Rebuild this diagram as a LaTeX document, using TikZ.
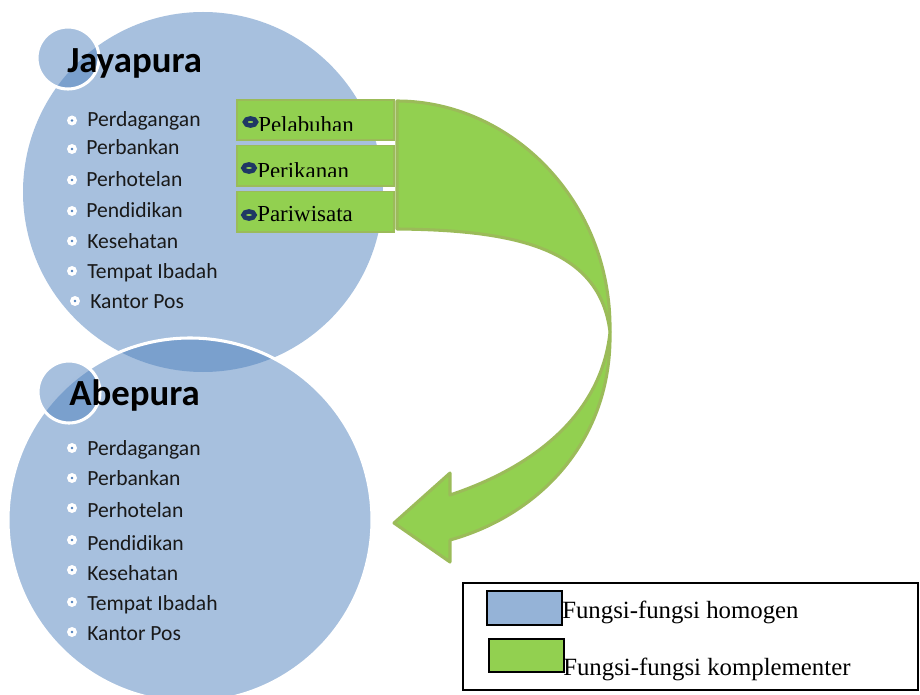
\documentclass[tikz,border=0pt]{standalone}
\usepackage{fontspec}
\setmainfont{Liberation Serif}
\newfontfamily\calibrifont{Carlito}
\definecolor{cityblue}{HTML}{4F81BD}
\definecolor{legblue}{HTML}{95B3D7}
\definecolor{funcgreen}{HTML}{92D050}
\definecolor{funcedge}{HTML}{9BBB59}
\definecolor{ringblue}{HTML}{1F3864}
\tikzset{
    bigcity/.style={fill=cityblue,fill opacity=0.5},
    smallcity/.style={fill=cityblue,fill opacity=0.5,draw=white,draw opacity=1,line width=2.3pt} }
\tikzset{
    citytitle/.style={anchor=base west,inner sep=0pt,font=\calibrifont\bfseries\fontsize{27.6}{30}\selectfont},
    citylist/.style={anchor=base west,inner sep=0pt,text=black!90,font=\calibrifont\fontsize{16.2}{19}\selectfont},
    funcbox/.style={fill=funcgreen,draw=funcedge,line width=1pt},
    functext/.style={anchor=base west,inner sep=0pt,font=\fontsize{17.2}{19}\selectfont},
    arrowband/.style={fill=funcgreen,draw=funcedge,line width=2.3pt,line join=round},
    legtext/.style={anchor=base west,inner sep=0pt,font=\fontsize{18.6}{20}\selectfont} }

\begin{document}
\begin{tikzpicture}[x=0.75pt,y=-0.75pt]
\useasboundingbox (0,0) rectangle (920,695);

% Jayapura
  \fill [bigcity] (203,192) circle (180);
  \filldraw [smallcity] (68,58) circle (31);
  \node [citytitle] (jaya) at (67,73) {Jayapura};

% Abepura
  \filldraw [bigcity,draw=white,draw opacity=1,line width=2.3pt] (190,520) circle (182);
  \filldraw [smallcity] (69,392) circle (31);
  \node [citytitle] (abe) at (69,405) {Abepura};

% bullets
  \foreach \y in {120.5,149,180,211,241,271,448,478,508,540,570,602,632}
    {\fill [white] (72,\y) circle (5); \fill [cityblue] (72,\y) circle (1.4);}
  \fill [white] (75,301) circle (5); \fill [cityblue] (75,301) circle (1.4);

  \node [citylist] (j1) at (87,127) {Perdagangan};  \node [citylist] (j2) at (86,155) {Perbankan};
  \node [citylist] (j3) at (86,187) {Perhotelan};   \node [citylist] (j4) at (86,218) {Pendidikan};
  \node [citylist] (j5) at (87,248) {Kesehatan};    \node [citylist] (j6) at (87,278) {Tempat Ibadah};
  \node [citylist] (j7) at (90,308) {Kantor Pos};

  \node [citylist] (a1) at (87,455) {Perdagangan};  \node [citylist] (a2) at (87,485) {Perbankan};
  \node [citylist] (a3) at (87,517) {Perhotelan};   \node [citylist] (a4) at (87,550) {Pendidikan};
  \node [citylist] (a5) at (87,580) {Kesehatan};    \node [citylist] (a6) at (87,610) {Tempat Ibadah};
  \node [citylist] (a7) at (87,640) {Kantor Pos};

% complementary functions
  \filldraw [funcbox] (237,100) rectangle (394,140);
  \filldraw [funcbox] (237,145.5) rectangle (394,186);
  \filldraw [funcbox] (237,191.5) rectangle (394,232);
  \draw [ringblue,line width=3.4pt] (250.5,122) ellipse (5.6 and 3.6);
  \draw [ringblue,line width=3.4pt] (249,168) ellipse (5.6 and 3.6);
  \draw [ringblue,line width=3.4pt] (249,215) ellipse (5.6 and 3.6);
  \begin{scope} \clip (237,100) rectangle (394,130.5);
    \node [functext] (f1) at (258,133) {Pelabuhan};
  \end{scope}
  \begin{scope} \clip (237,146) rectangle (394,176.5);
    \node [functext] (f2) at (257,179) {Perikanan};
  \end{scope}
  \node [functext] (f3) at (257,222) {Pariwisata};

% twisted arrow
  \filldraw [arrowband] (397,101) .. controls (510,101) and (612,200) .. (610,332)
        .. controls (600,250) and (520,230) .. (397,229) -- cycle;
  \filldraw [arrowband] (610,332) .. controls (602,410) and (540,465) .. (450,495)
        -- (450,473) -- (394,523) -- (450,562) -- (450,540)
        .. controls (540,515) and (612,440) .. (610,332) -- cycle;

% legend
  \draw [line width=1pt] (463,583) rectangle (918,690);
  \filldraw [fill=legblue,draw=black,line width=1.5pt] (487,591) rectangle (562,625);
  \filldraw [fill=funcgreen,draw=black,line width=1.5pt] (489,639) rectangle (564,672);
  \node [legtext] (lhom) at (562,618) {Fungsi-fungsi homogen};
  \node [legtext] (lkom) at (563,675) {Fungsi-fungsi komplementer};

\end{tikzpicture}
\end{document}
